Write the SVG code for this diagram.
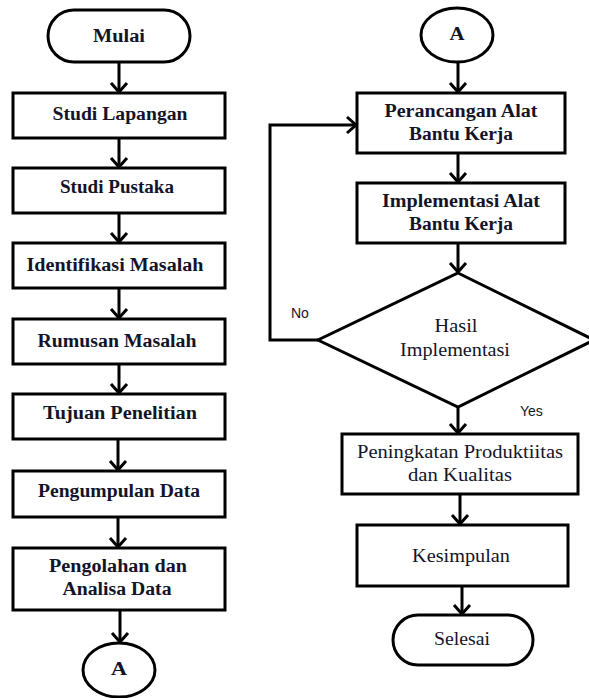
<svg xmlns="http://www.w3.org/2000/svg" width="589" height="698" viewBox="0 0 589 698">
<style>
.s{fill:#fff;stroke:#000;stroke-width:3}
.b{font-family:"Liberation Serif","Times New Roman",serif;font-weight:bold;font-size:18px;fill:#141428;text-anchor:middle}
.r{font-family:"Liberation Serif","Times New Roman",serif;font-size:18px;fill:#141428;text-anchor:middle}
.l{font-family:"Liberation Sans",Arial,sans-serif;font-size:14px;fill:#141428}
.c{fill:none;stroke:#000;stroke-width:3}
</style>
<defs>
<marker id="ah" markerUnits="userSpaceOnUse" viewBox="-12 -12 24 24" markerWidth="24" markerHeight="24" refX="0" refY="0" orient="auto">
<path d="M-9,-8 L0,0 L-9,8" fill="none" stroke="#000" stroke-width="3"/>
</marker>
</defs>
<rect width="589" height="698" fill="#fff"/>
<g id="connectors">
<line class="c" x1="119" y1="62" x2="119" y2="92" marker-end="url(#ah)"/>
<line class="c" x1="119" y1="138" x2="119" y2="167" marker-end="url(#ah)"/>
<line class="c" x1="119" y1="213" x2="119" y2="242" marker-end="url(#ah)"/>
<line class="c" x1="119" y1="288" x2="119" y2="318" marker-end="url(#ah)"/>
<line class="c" x1="119" y1="364" x2="119" y2="393" marker-end="url(#ah)"/>
<line class="c" x1="118" y1="439" x2="118" y2="470" marker-end="url(#ah)"/>
<line class="c" x1="118" y1="517" x2="118" y2="547" marker-end="url(#ah)"/>
<line class="c" x1="120" y1="610" x2="120" y2="642" marker-end="url(#ah)"/>
<line class="c" x1="458" y1="62" x2="458" y2="92" marker-end="url(#ah)"/>
<line class="c" x1="458" y1="153" x2="458" y2="182" marker-end="url(#ah)"/>
<line class="c" x1="458" y1="243" x2="458" y2="272" marker-end="url(#ah)"/>
<line class="c" x1="458" y1="407" x2="458" y2="433" marker-end="url(#ah)"/>
<line class="c" x1="460" y1="494" x2="460" y2="524" marker-end="url(#ah)"/>
<line class="c" x1="462" y1="586" x2="462" y2="614" marker-end="url(#ah)"/>
<polyline class="c" points="318,340 270,340 270,125 356,125" marker-end="url(#ah)"/>
<text class="l" x="291" y="318">No</text>
<text class="l" x="520" y="416">Yes</text>
</g>
<g id="mulai">
<rect class="s" x="48" y="10" width="142" height="52" rx="26"/>
<text class="b" x="119" y="42" textLength="52" lengthAdjust="spacingAndGlyphs">Mulai</text>
</g>
<g id="studi-lapangan">
<rect class="s" x="13" y="93" width="212" height="45"/>
<text class="b" x="120" y="120" textLength="135" lengthAdjust="spacingAndGlyphs">Studi Lapangan</text>
</g>
<g id="studi-pustaka">
<rect class="s" x="13" y="168" width="212" height="45"/>
<text class="b" x="117" y="193" textLength="114" lengthAdjust="spacingAndGlyphs">Studi Pustaka</text>
</g>
<g id="identifikasi">
<rect class="s" x="13" y="243" width="212" height="45"/>
<text class="b" x="115" y="271" textLength="177" lengthAdjust="spacingAndGlyphs">Identifikasi Masalah</text>
</g>
<g id="rumusan">
<rect class="s" x="13" y="319" width="212" height="45"/>
<text class="b" x="117" y="347" textLength="159" lengthAdjust="spacingAndGlyphs">Rumusan Masalah</text>
</g>
<g id="tujuan">
<rect class="s" x="13" y="394" width="212" height="45"/>
<text class="b" x="120" y="419" textLength="154" lengthAdjust="spacingAndGlyphs">Tujuan Penelitian</text>
</g>
<g id="pengumpulan">
<rect class="s" x="13" y="471" width="212" height="46"/>
<text class="b" x="119" y="497" textLength="162" lengthAdjust="spacingAndGlyphs">Pengumpulan Data</text>
</g>
<g id="pengolahan">
<rect class="s" x="13" y="548" width="212" height="62"/>
<text class="b" x="118" y="572" textLength="138" lengthAdjust="spacingAndGlyphs">Pengolahan dan</text>
<text class="b" x="117" y="595" textLength="109" lengthAdjust="spacingAndGlyphs">Analisa Data</text>
</g>
<g id="a-out">
<ellipse class="s" cx="119" cy="670" rx="36" ry="27"/>
<text class="b" x="119" y="675" textLength="16" lengthAdjust="spacingAndGlyphs">A</text>
</g>
<g id="a-in">
<ellipse class="s" cx="457" cy="35" rx="36" ry="27"/>
<text class="b" x="457" y="40" textLength="15" lengthAdjust="spacingAndGlyphs">A</text>
</g>
<g id="perancangan">
<rect class="s" x="357" y="93" width="208" height="60"/>
<text class="b" x="461" y="117" textLength="153" lengthAdjust="spacingAndGlyphs">Perancangan Alat</text>
<text class="b" x="461" y="140" textLength="104" lengthAdjust="spacingAndGlyphs">Bantu Kerja</text>
</g>
<g id="implementasi-alat">
<rect class="s" x="357" y="183" width="208" height="60"/>
<text class="b" x="461" y="207" textLength="158" lengthAdjust="spacingAndGlyphs">Implementasi Alat</text>
<text class="b" x="461" y="230" textLength="104" lengthAdjust="spacingAndGlyphs">Bantu Kerja</text>
</g>
<g id="hasil">
<polygon class="s" points="458,273 594,340 458,407 318,340"/>
<text class="r" x="456" y="332" textLength="43" lengthAdjust="spacingAndGlyphs">Hasil</text>
<text class="r" x="455" y="356" textLength="110" lengthAdjust="spacingAndGlyphs">Implementasi</text>
</g>
<g id="peningkatan">
<rect class="s" x="342" y="434" width="236" height="60"/>
<text class="r" x="460" y="458" textLength="206" lengthAdjust="spacingAndGlyphs">Peningkatan Produktiitas</text>
<text class="r" x="460" y="481" textLength="104" lengthAdjust="spacingAndGlyphs">dan Kualitas</text>
</g>
<g id="kesimpulan">
<rect class="s" x="357" y="525" width="211" height="61"/>
<text class="r" x="461" y="562" textLength="98" lengthAdjust="spacingAndGlyphs">Kesimpulan</text>
</g>
<g id="selesai">
<rect class="s" x="393" y="615" width="140" height="50" rx="25"/>
<text class="r" x="462" y="645" textLength="56" lengthAdjust="spacingAndGlyphs">Selesai</text>
</g>
</svg>
